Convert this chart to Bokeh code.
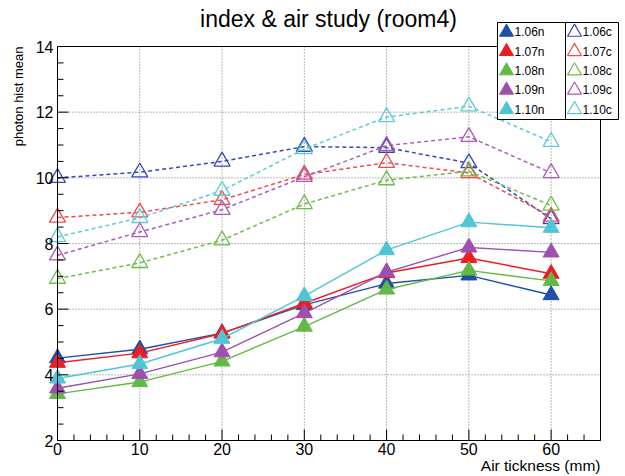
from bokeh.plotting import figure
from bokeh.models import Range1d, Label
from bokeh.core.properties import value
from bokeh.embed import file_html
from bokeh.resources import INLINE

# air thickness (mm)
air = [0, 10, 20, 30, 40, 50, 60]

# photon hist mean, "n" series
n106 = [4.51, 4.78, 5.27, 6.13, 6.78, 7.03, 6.43]
n107 = [4.37, 4.66, 5.26, 6.18, 7.10, 7.56, 7.08]
n108 = [3.42, 3.78, 4.41, 5.47, 6.60, 7.18, 6.86]
n109 = [3.59, 4.03, 4.69, 5.88, 7.13, 7.88, 7.73]
n110 = [3.89, 4.33, 5.10, 6.40, 7.80, 8.65, 8.48]

# photon hist mean, "c" series
c106 = [10.00, 10.17, 10.50, 10.95, 10.92, 10.45, 8.75]
c107 = [8.79, 8.95, 9.33, 10.10, 10.46, 10.15, 8.82]
c108 = [6.93, 7.41, 8.10, 9.20, 9.93, 10.20, 9.16]
c109 = [7.64, 8.35, 9.03, 10.03, 10.98, 11.25, 10.15]
c110 = [8.20, 8.78, 9.61, 10.88, 11.85, 12.18, 11.10]

names = ["1.06", "1.07", "1.08", "1.09", "1.10"]
n_series = [n106, n107, n108, n109, n110]
c_series = [c106, c107, c108, c109, c110]
n_colors = ["#1f4fa6", "#ee1c24", "#62b946", "#9f4fae", "#4fc6d6"]
c_colors = ["#3448b8", "#f04a4a", "#6cbd4a", "#ab5ab8", "#5ccbd9"]

# axis layout
x_min, x_max = 0, 66
y_min, y_max = 2, 14
x_major = [0, 10, 20, 30, 40, 50, 60]
y_major = [2, 4, 6, 8, 10, 12, 14]
x_minor_step = 2
y_minor_step = 0.5

FONT = "Liberation Sans"
W, H = 625, 476
# pixel box of the plotting area inside the page
FL, FR, FT, FB = 57, 600, 46, 440

sx = (x_max - x_min) / (FR - FL)      # data units per pixel, x
sy = (y_max - y_min) / (FB - FT)      # data units per pixel, y


def xd(px):
    return x_min + (px - FL) * sx


def yd(py):
    return y_max - (py - FT) * sy


p = figure(width=W, height=H, output_backend="svg", toolbar_location=None,
           x_range=Range1d(xd(0), xd(W)), y_range=Range1d(yd(H), yd(0)),
           x_axis_location=None, y_axis_location=None,
           min_border=0, min_border_left=0, min_border_right=0,
           min_border_top=0, min_border_bottom=0)
p.outline_line_color = None
p.grid.visible = False
p.background_fill_color = "white"
p.border_fill_color = "white"

# dotted grid at the major ticks
gx = [v for v in x_major if x_min < v < x_max]
gy = [v for v in y_major if y_min < v < y_max]
p.segment(x0=gx, y0=[y_min] * len(gx), x1=gx, y1=[y_max] * len(gx),
          line_color="#707070", line_width=1, line_dash="1 2")
p.segment(x0=[x_min] * len(gy), y0=gy, x1=[x_max] * len(gy), y1=gy,
          line_color="#707070", line_width=1, line_dash="1 2")

# dashed "c" curves with hollow triangles
for ys, col in zip(c_series, c_colors):
    p.line(air, ys, line_color=col, line_width=1.5, line_dash="4 3")
    p.scatter(air, ys, marker="triangle", size=16, fill_color=None,
              line_color=col, line_width=1.3)

# solid "n" curves with filled triangles
for ys, col in zip(n_series, n_colors):
    p.line(air, ys, line_color=col, line_width=1.4)
    p.scatter(air, ys, marker="triangle", size=16, fill_color=col,
              line_color=col, line_width=1)

# frame
p.quad(left=[x_min], right=[x_max], bottom=[y_min], top=[y_max],
       fill_color=None, line_color="black", line_width=1)

# ticks pointing into the plotting area
xminor = [x_min + i * x_minor_step for i in range(int((x_max - x_min) / x_minor_step) + 1)]
yminor = [y_min + i * y_minor_step for i in range(int((y_max - y_min) / y_minor_step) + 1)]
xminor = [v for v in xminor if v not in x_major]
yminor = [v for v in yminor if v not in y_major]
p.segment(x0=x_major, y0=[y_min] * len(x_major), x1=x_major,
          y1=[y_min + 11 * sy] * len(x_major), line_color="black", line_width=1)
p.segment(x0=xminor, y0=[y_min] * len(xminor), x1=xminor,
          y1=[y_min + 6 * sy] * len(xminor), line_color="black", line_width=1)
p.segment(x0=[x_min] * len(y_major), y0=y_major, x1=[x_min + 11 * sx] * len(y_major),
          y1=y_major, line_color="black", line_width=1)
p.segment(x0=[x_min] * len(yminor), y0=yminor, x1=[x_min + 6 * sx] * len(yminor),
          y1=yminor, line_color="black", line_width=1)

# tick labels
p.text(x=x_major, y=[y_min - 2 * sy] * len(x_major), text=[str(v) for v in x_major],
       text_font=value(FONT), text_font_size="16px", text_color="black",
       text_align="center", text_baseline="top")
p.text(x=[x_min - 4 * sx] * len(y_major), y=y_major, text=[str(v) for v in y_major],
       text_font=value(FONT), text_font_size="16px", text_color="black",
       text_align="right", text_baseline="middle")

# title and axis titles
p.add_layout(Label(x=328, y=H - 18, x_units="screen", y_units="screen",
                   text="index & air study (room4)", text_font=FONT,
                   text_font_size="23px", text_align="center",
                   text_baseline="middle", text_color="black"))
p.add_layout(Label(x=18, y=H - 46, x_units="screen", y_units="screen",
                   text="photon hist mean", text_font=FONT,
                   text_font_size="13px", text_align="right",
                   text_baseline="middle", angle=1.5708, text_color="black"))
p.add_layout(Label(x=600, y=H - 465, x_units="screen", y_units="screen",
                   text="Air tickness (mm)", text_font=FONT,
                   text_font_size="15.5px", text_align="right",
                   text_baseline="middle", text_color="black"))

# legend: white box split in two columns
box_l, box_r, box_t, box_b, div_x = 497, 618, 22, 119, 565
p.quad(left=[xd(box_l)], right=[xd(box_r)], bottom=[yd(box_b)], top=[yd(box_t)],
       fill_color="white", line_color="black", line_width=1)
p.segment(x0=[xd(div_x)], y0=[yd(box_b)], x1=[xd(div_x)], y1=[yd(box_t)],
          line_color="black", line_width=1)

row_y = [31.7, 51, 70.3, 89.6, 109]
key_n_x, key_c_x = 506, 574
p.scatter(x=[xd(key_n_x)] * 5, y=[yd(r) for r in row_y], marker="triangle", size=14,
          fill_color=n_colors, line_color=n_colors, line_width=1)
p.scatter(x=[xd(key_c_x)] * 5, y=[yd(r) for r in row_y], marker="triangle", size=14,
          fill_color=None, line_color=c_colors, line_width=1.2)
p.text(x=[xd(514)] * 5, y=[yd(r) for r in row_y], text=[nm + "n" for nm in names],
       text_font=value(FONT), text_font_size="12px", text_color="black",
       text_align="left", text_baseline="middle")
p.text(x=[xd(582)] * 5, y=[yd(r) for r in row_y], text=[nm + "c" for nm in names],
       text_font=value(FONT), text_font_size="12px", text_color="black",
       text_align="left", text_baseline="middle")

open("out.html", "w").write(file_html(p, INLINE))
